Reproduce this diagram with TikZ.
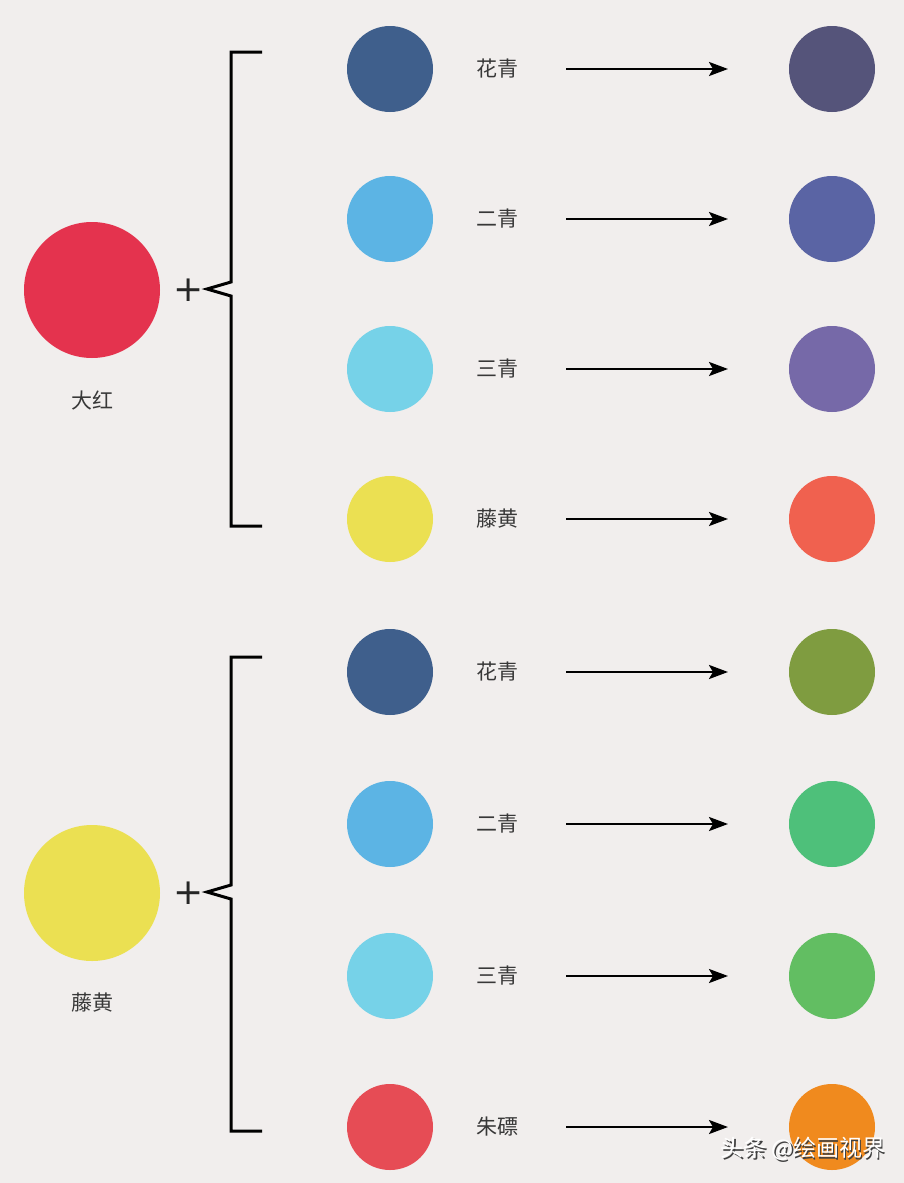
\documentclass[tikz,border=0pt]{standalone}
\usepackage{fontspec}
\newfontfamily\cjk{Noto Sans CJK SC}
\newfontfamily\plusfont{DejaVu Sans}
\usetikzlibrary{arrows.meta}
\definecolor{bg}{HTML}{F1EEED}
\definecolor{dahong}{HTML}{E4334E}
\definecolor{huaqing}{HTML}{3F5F8C}
\definecolor{erqing}{HTML}{5CB4E4}
\definecolor{sanqing}{HTML}{76D2E8}
\definecolor{tenghuang}{HTML}{EBE052}
\definecolor{zhubiao}{HTML}{E64C55}
\definecolor{rA}{HTML}{55547A}
\definecolor{rB}{HTML}{5A64A4}
\definecolor{rC}{HTML}{7669A8}
\definecolor{rD}{HTML}{F0614F}
\definecolor{yA}{HTML}{7F9C40}
\definecolor{yB}{HTML}{4EC07A}
\definecolor{yC}{HTML}{62BE62}
\definecolor{yD}{HTML}{F08A1E}
\tikzset{
  bigdot/.style={circle,minimum size=136pt,inner sep=0pt,draw=none},
  dot/.style={circle,minimum size=86pt,inner sep=0pt,draw=none},
  lbl/.style={font=\cjk\fontsize{21}{24}\selectfont,text=black!78,inner sep=0pt},
  arr/.style={-{Stealth[length=19pt,width=14pt,inset=4pt]},line width=2.5pt,black},
  brk/.style={line width=3pt,black,line cap=butt,line join=miter},
  plus/.style={font=\plusfont\fontsize{36}{36}\selectfont\selectfont,inner sep=0pt,text=black!85}
}
\begin{document}
\begin{tikzpicture}[x=1pt,y=-1pt]
\fill[bg] (0,0) rectangle (904,1183);
\useasboundingbox (0,0) rectangle (904,1183);
% group 1
\node[bigdot,fill=dahong] (big1) at (92,290) {};
\node[lbl] (big1l) at (92,400) {大红};
\node[plus] (plus1) at (189,290) {+};
\draw[brk] (262,52) -- (231,52) -- (231,282) -- (207,289) -- (231,296) -- (231,526) -- (262,526);
\foreach \y/\c/\t/\r/\n in {69/huaqing/花青/rA/a,219/erqing/二青/rB/b,369/sanqing/三青/rC/c,519/tenghuang/藤黄/rD/d}{
  \node[dot,fill=\c] (s1\n) at (390,\y) {};
  \node[lbl] (l1\n) at (497,\y) {\t};
  \coordinate (as1\n) at (566,\y);
  \coordinate (ae1\n) at (728,\y);
  \node[dot,fill=\r] (r1\n) at (832,\y) {};
  \draw[arr] (as1\n) -- (ae1\n);
}
% group 2
\node[bigdot,fill=tenghuang] (big2) at (92,893) {};
\node[lbl] (big2l) at (92,1003) {藤黄};
\node[plus] (plus2) at (189,893) {+};
\draw[brk] (262,657) -- (231,657) -- (231,885) -- (207,892) -- (231,899) -- (231,1131) -- (262,1131);
\foreach \y/\c/\t/\r/\n in {672/huaqing/花青/yA/a,824/erqing/二青/yB/b,976/sanqing/三青/yC/c,1127/zhubiao/朱磦/yD/d}{
  \node[dot,fill=\c] (s2\n) at (390,\y) {};
  \node[lbl] (l2\n) at (497,\y) {\t};
  \coordinate (as2\n) at (566,\y);
  \coordinate (ae2\n) at (728,\y);
  \node[dot,fill=\r] (r2\n) at (832,\y) {};
  \draw[arr] (as2\n) -- (ae2\n);
}
% watermark
\node[font=\cjk\fontsize{23}{26}\selectfont,text=black!75,inner sep=0pt] (wms) at (804.5,1150.5) {头条 @绘画视界};
\node[font=\cjk\fontsize{23}{26}\selectfont,text=white,inner sep=0pt] (wm) at (803,1149) {头条 @绘画视界};
\end{tikzpicture}
\end{document}
